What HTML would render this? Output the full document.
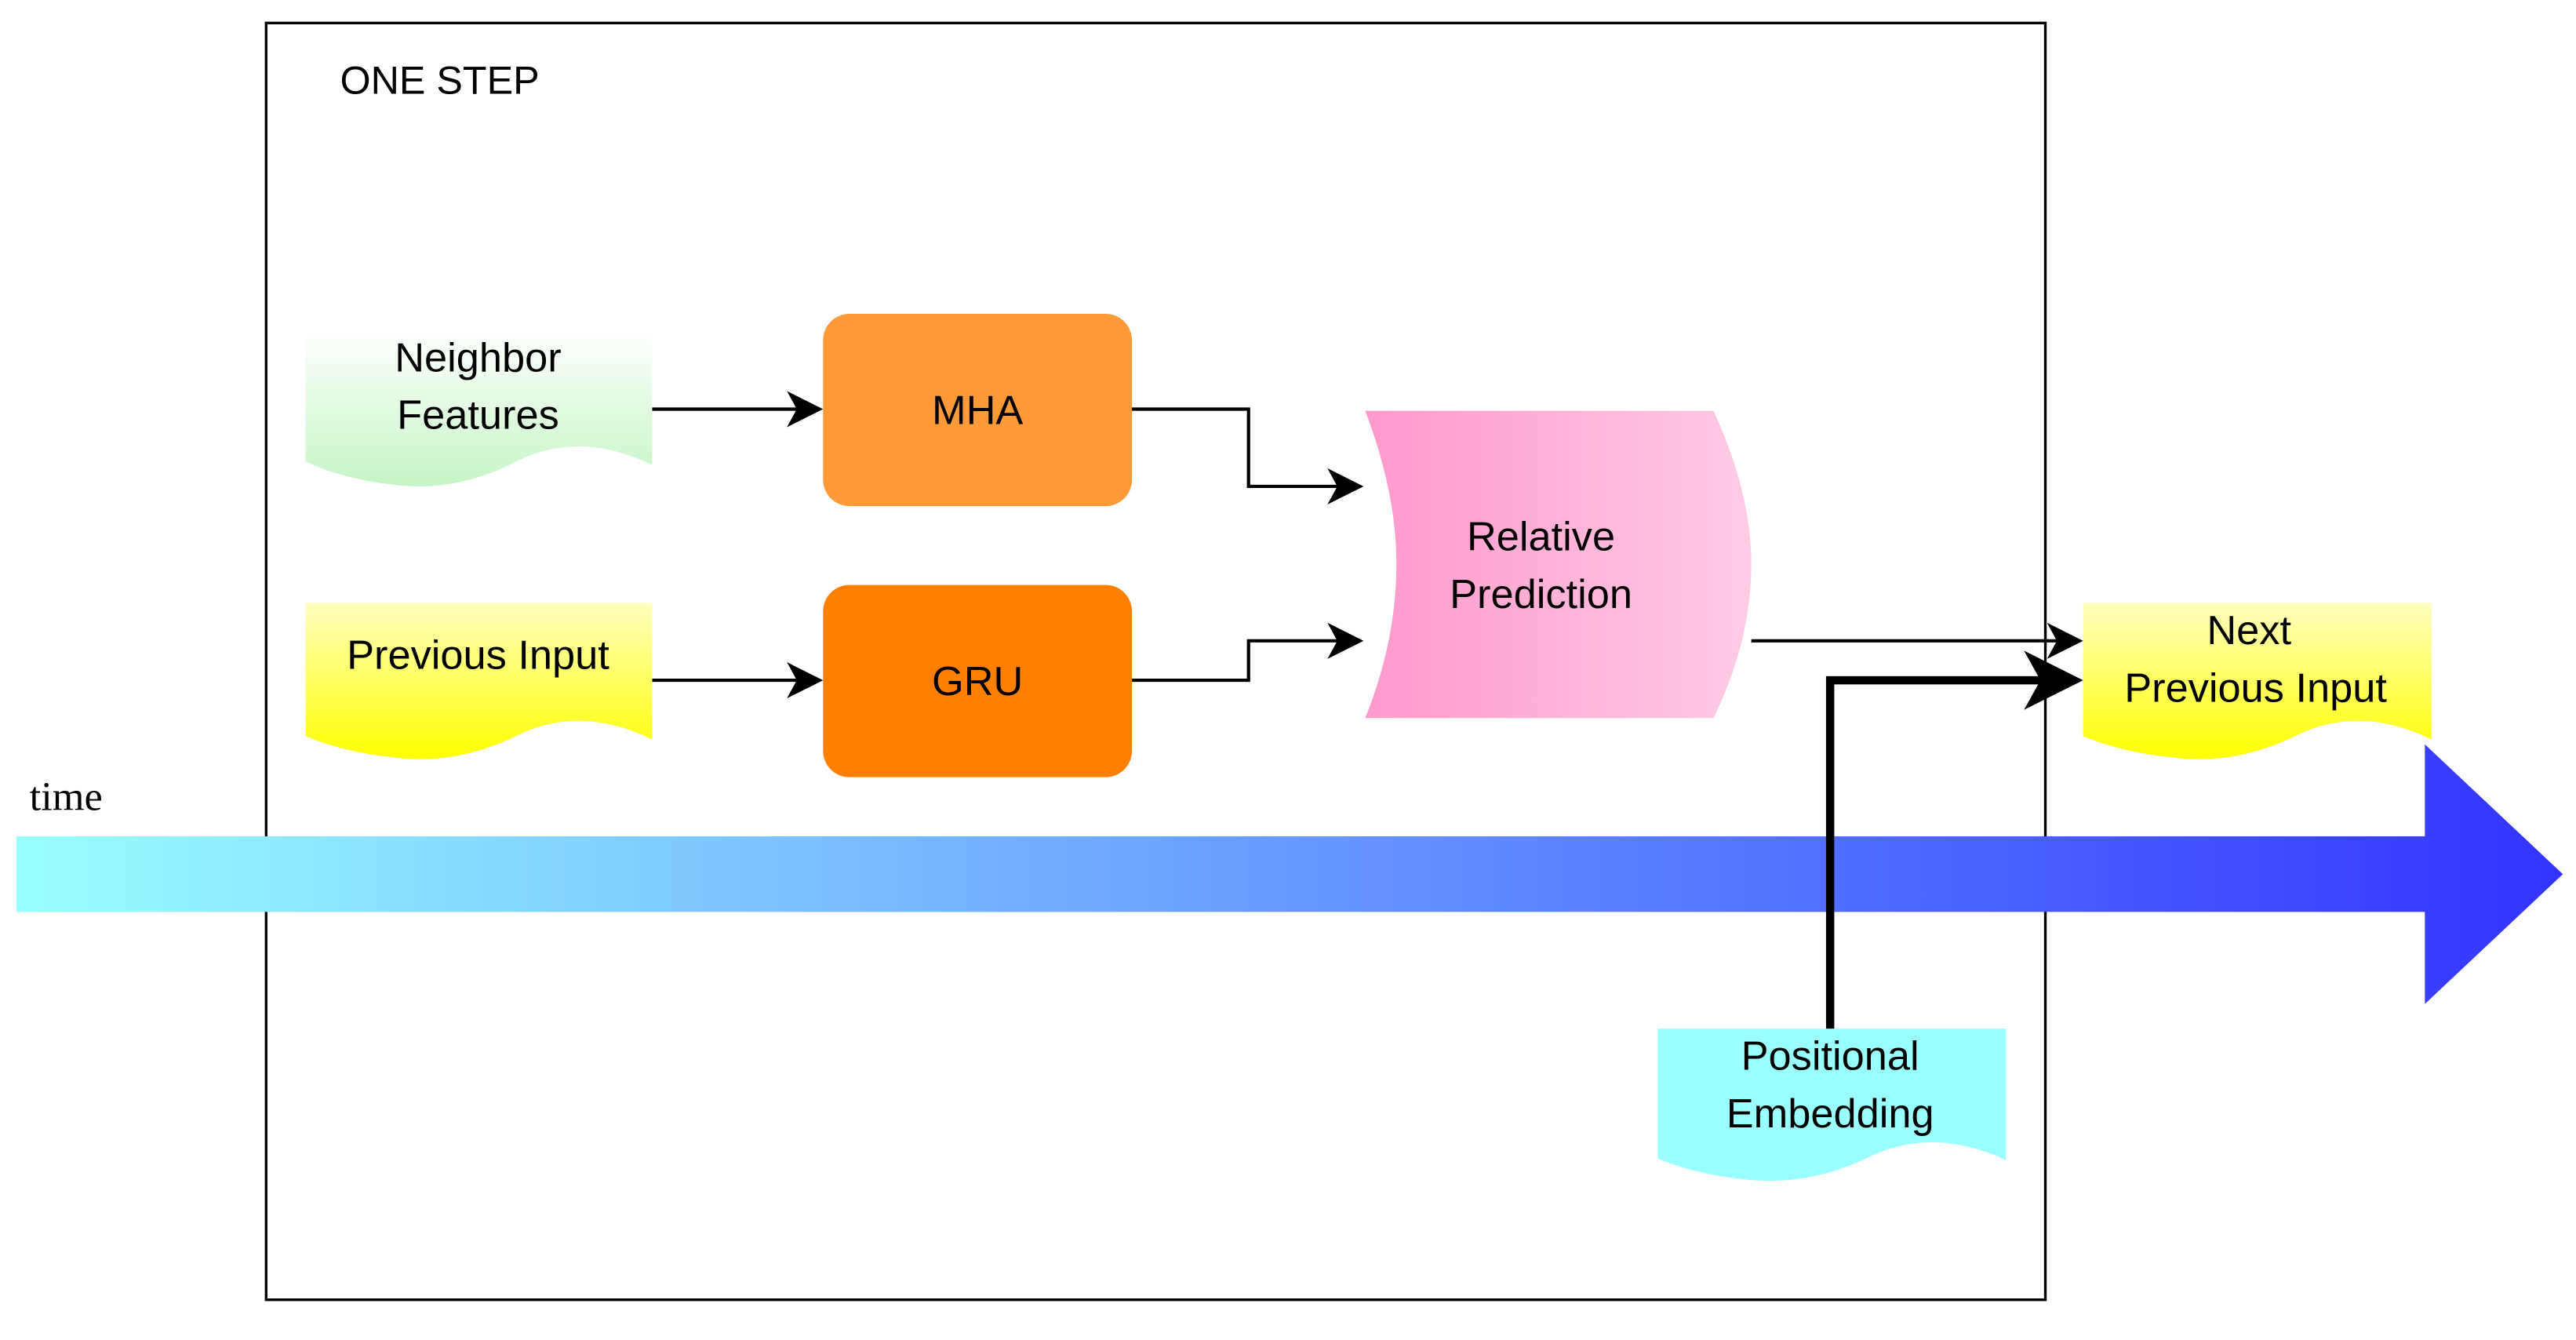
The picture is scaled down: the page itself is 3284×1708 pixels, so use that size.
<!DOCTYPE html>
<html><head><meta charset="utf-8"><style>
html,body{margin:0;padding:0;background:#fff;}
svg{display:block;}
text{font-family:"Liberation Sans",sans-serif;fill:#000;}
</style></head><body>
<svg width="3284" height="1708" viewBox="0 0 1568 815.5" preserveAspectRatio="none" xmlns="http://www.w3.org/2000/svg">
<defs>
<linearGradient id="gG" x1="0" y1="0" x2="0" y2="1"><stop offset="0" stop-color="#ffffff"/><stop offset="1" stop-color="#c6f5c6"/></linearGradient>
<linearGradient id="gY" x1="0" y1="0" x2="0" y2="1"><stop offset="0" stop-color="#ffffc0"/><stop offset="1" stop-color="#ffff00"/></linearGradient>
<linearGradient id="gP" x1="0" y1="0" x2="1" y2="0"><stop offset="0" stop-color="#ff99cc"/><stop offset="1" stop-color="#ffcce4"/></linearGradient>
<linearGradient id="gT" x1="10" y1="0" x2="1560" y2="0" gradientUnits="userSpaceOnUse"><stop offset="0" stop-color="#99ffff"/><stop offset="0.35" stop-color="#77b8ff"/><stop offset="1" stop-color="#3333ff"/></linearGradient>
</defs>

<rect x="162" y="14" width="1083" height="777" fill="none" stroke="#000" stroke-width="1.6"/>
<text x="207" y="57" font-size="24">ONE STEP</text>

<path d="M10,509 H1476 V453 L1560,532 L1476,611 V555 H10 Z" fill="url(#gT)"/>
<text x="18" y="493" font-size="25" style="font-family:'Liberation Serif',serif">time</text>

<path d="M186,200 H397 V283 Q354,262 316,280 Q278,300 240,295 Q210,292 186,281 Z" fill="url(#gG)"/>
<text x="291" y="226" font-size="25" text-anchor="middle">Neighbor</text>
<text x="291" y="261" font-size="25" text-anchor="middle">Features</text>

<path d="M186,367 H397 V450 Q354,429 316,447 Q278,466 240,461 Q210,458 186,448 Z" fill="url(#gY)"/>
<text x="291" y="407" font-size="25" text-anchor="middle">Previous Input</text>

<path d="M1268,367 H1480 V450 Q1437,429 1399,447 Q1361,466 1323,461 Q1292,458 1268,448 Z" fill="url(#gY)"/>
<text x="1369" y="392" font-size="25" text-anchor="middle">Next</text>
<text x="1373" y="427" font-size="25" text-anchor="middle">Previous Input</text>

<path d="M1009,626 H1221 V706 Q1178,686 1140,703 Q1102,722 1064,718 Q1033,715 1009,705 Z" fill="#99ffff"/>
<text x="1114" y="651" font-size="25" text-anchor="middle">Positional</text>
<text x="1114" y="686" font-size="25" text-anchor="middle">Embedding</text>

<rect x="501" y="191" width="188" height="117" rx="16" fill="#ff9a38"/>
<text x="595" y="258" font-size="25" text-anchor="middle">MHA</text>
<rect x="501" y="356" width="188" height="117" rx="16" fill="#ff7f00"/>
<text x="595" y="423" font-size="25" text-anchor="middle">GRU</text>

<path d="M831,250 H1043 Q1066,300 1066,343 Q1066,390 1043,437 H831 Q850,390 850,343 Q850,300 831,250 Z" fill="url(#gP)"/>
<text x="938" y="335" font-size="25" text-anchor="middle">Relative</text>
<text x="938" y="370" font-size="25" text-anchor="middle">Prediction</text>

<g fill="none" stroke="#000" stroke-width="2">
<path d="M397,249 H490"/>
<path d="M397,414 H490"/>
<path d="M689,249 H760 V296 H818"/>
<path d="M689,414 H760 V390 H818"/>
<path d="M1066,390 H1256"/>
</g>
<g fill="#000">
<path d="M501,249 L479,238 L485,249 L479,260 Z"/>
<path d="M501,414 L479,403 L485,414 L479,425 Z"/>
<path d="M830,296 L808,285 L814,296 L808,307 Z"/>
<path d="M830,390 L808,379 L814,390 L808,401 Z"/>
<path d="M1268,390 L1246,379 L1252,390 L1246,401 Z"/>
<path d="M1268,414 L1232,396 L1242,414 L1232,432 Z"/>
</g>
<path d="M1114,626 V414 H1245" fill="none" stroke="#000" stroke-width="5"/>
</svg>
</body></html>
